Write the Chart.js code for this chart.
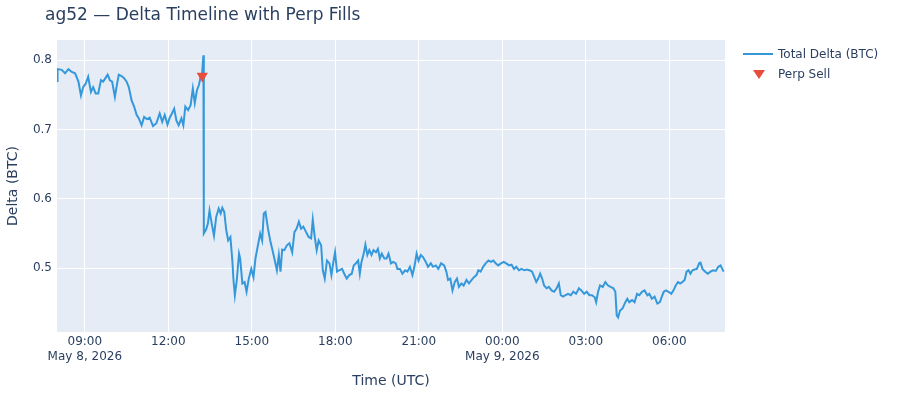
<!DOCTYPE html>
<html>
<head>
<meta charset="utf-8">
<script src="https://cdn.jsdelivr.net/npm/chart.js@4.4.1/dist/chart.umd.min.js"></script>
<style>
  body { margin: 0; background: #fff; font-family: "DejaVu Sans", Verdana, sans-serif; color: #2a3f5f; }
  #wrap { position: relative; width: 900px; height: 400px; }
  #title { position: absolute; left: 45px; top: 2px; font-size: 17px; line-height: 24px; white-space: nowrap; }
  .lg { position: absolute; font-size: 12px; line-height: 16px; white-space: nowrap; }
  #lgLine { position: absolute; left: 743px; top: 53px; width: 30px; height: 2px; background: #3498DB; }
  #lgTri { position: absolute; left: 753px; top: 70px; width: 0; height: 0;
    border-left: 6px solid transparent; border-right: 6px solid transparent; border-top: 9px solid #E74C3C; }
</style>
</head>
<body>
<div id="wrap">
  <canvas id="deltaChart"></canvas>
  <div id="title">ag52 — Delta Timeline with Perp Fills</div>
  <div id="lgLine"></div>
  <div class="lg" style="left:778px; top:46px;">Total Delta (BTC)</div>
  <div id="lgTri"></div>
  <div class="lg" style="left:778px; top:66px;">Perp Sell</div>
</div>
<script>
// hours since 2026-05-08 00:00 UTC
const timesH = [
  8.00, 8.02, 8.17, 8.29, 8.41, 8.53, 8.65, 8.77, 8.86, 8.94, 9.03, 9.12, 9.22, 9.30, 9.39, 9.48,
  9.58, 9.66, 9.74, 9.82, 9.90, 9.98, 10.08, 10.15, 10.22, 10.32, 10.41, 10.50, 10.58, 10.68, 10.77, 10.86,
  10.94, 11.04, 11.13, 11.23, 11.33, 11.45, 11.57, 11.69, 11.78, 11.87, 11.97, 12.05, 12.13, 12.21, 12.29, 12.37,
  12.47, 12.54, 12.61, 12.71, 12.80, 12.88, 12.95, 13.03, 13.10, 13.16, 13.21, 13.26, 13.27, 13.28,
  13.36, 13.42, 13.48, 13.56, 13.64, 13.72, 13.81, 13.88, 13.94, 14.01, 14.08, 14.15, 14.23, 14.30, 14.34, 14.39,
  14.46, 14.54, 14.58, 14.66, 14.74, 14.81, 14.89, 14.98, 15.06, 15.13, 15.22, 15.30, 15.37, 15.43, 15.49, 15.58,
  15.66, 15.73, 15.81, 15.90, 15.97, 16.03, 16.09, 16.17, 16.26, 16.35, 16.45, 16.53, 16.61, 16.69, 16.77, 16.85,
  16.95, 17.04, 17.13, 17.19, 17.26, 17.33, 17.40, 17.49, 17.55, 17.62, 17.70, 17.79, 17.86, 17.93, 17.99, 18.06,
  18.14, 18.24, 18.32, 18.41, 18.50, 18.59, 18.66, 18.74, 18.82, 18.88, 18.94, 19.02, 19.08, 19.15, 19.22, 19.30,
  19.37, 19.46, 19.53, 19.60, 19.67, 19.76, 19.84, 19.91, 20.00, 20.08, 20.17, 20.23,
  20.32, 20.41, 20.51, 20.59, 20.68, 20.77, 20.84, 20.92, 20.99, 21.07, 21.15, 21.25, 21.33, 21.43, 21.51, 21.61,
  21.70, 21.80, 21.91, 21.99, 22.05, 22.13, 22.21, 22.29, 22.37, 22.44, 22.53, 22.61, 22.71, 22.80, 22.90, 22.98,
  23.07, 23.14, 23.22, 23.31, 23.40, 23.50, 23.59, 23.68, 23.76, 23.85, 23.95, 24.05, 24.14, 24.24, 24.33, 24.42,
  24.50, 24.60, 24.69, 24.79, 24.88, 24.98, 25.07, 25.15, 25.22, 25.29, 25.36, 25.43, 25.50, 25.59, 25.67, 25.77,
  25.86, 25.95, 26.03, 26.10, 26.18, 26.27, 26.36, 26.46, 26.55, 26.65, 26.75, 26.84, 26.94, 27.03, 27.13, 27.22,
  27.32, 27.37, 27.44, 27.51, 27.61, 27.70, 27.80, 27.89, 27.99, 28.06, 28.11, 28.16, 28.23, 28.32, 28.42, 28.49,
  28.56, 28.66, 28.75, 28.84, 28.92, 29.02, 29.11, 29.21, 29.28, 29.37, 29.47, 29.57, 29.66, 29.73, 29.80, 29.88,
  29.97, 30.07, 30.15, 30.23, 30.31, 30.39, 30.47, 30.55, 30.62, 30.69, 30.76, 30.83, 30.90, 30.99, 31.07, 31.12,
  31.19, 31.29, 31.38, 31.48, 31.57, 31.67, 31.76, 31.84, 31.95
];
const totalDelta = [
  0.770, 0.787, 0.786, 0.781, 0.787, 0.783, 0.781, 0.769, 0.749, 0.761, 0.766, 0.776, 0.754, 0.761, 0.752, 0.752,
  0.771, 0.769, 0.774, 0.779, 0.771, 0.769, 0.747, 0.764, 0.779, 0.777, 0.774, 0.769, 0.761, 0.742, 0.733, 0.721,
  0.716, 0.706, 0.718, 0.715, 0.717, 0.705, 0.709, 0.723, 0.711, 0.721, 0.707, 0.717, 0.723, 0.730, 0.713, 0.706,
  0.716, 0.706, 0.733, 0.728, 0.735, 0.759, 0.738, 0.757, 0.764, 0.776, 0.779, 0.807, 0.700, 0.550,
  0.556, 0.564, 0.583, 0.564, 0.547, 0.574, 0.586, 0.579, 0.587, 0.581, 0.555, 0.540, 0.545, 0.511, 0.483, 0.461,
  0.483, 0.521, 0.514, 0.478, 0.480, 0.466, 0.485, 0.499, 0.487, 0.514, 0.533, 0.550, 0.540, 0.579, 0.581, 0.557,
  0.540, 0.528, 0.514, 0.497, 0.519, 0.495, 0.527, 0.526, 0.533, 0.536, 0.523, 0.552, 0.557, 0.567, 0.557, 0.560,
  0.552, 0.545, 0.543, 0.570, 0.545, 0.526, 0.540, 0.533, 0.497, 0.485, 0.511, 0.507, 0.490, 0.509, 0.523, 0.495,
  0.497, 0.499, 0.492, 0.485, 0.490, 0.492, 0.504, 0.507, 0.511, 0.492, 0.509, 0.521, 0.534, 0.519, 0.526, 0.519,
  0.526, 0.523, 0.528, 0.514, 0.521, 0.514, 0.514, 0.521, 0.507, 0.509, 0.507, 0.499,
  0.499, 0.492, 0.497, 0.495, 0.502, 0.490, 0.502, 0.521, 0.511, 0.519, 0.516, 0.509, 0.502, 0.507, 0.502, 0.504,
  0.499, 0.507, 0.504, 0.495, 0.483, 0.485, 0.468, 0.480, 0.485, 0.473, 0.478, 0.475, 0.483, 0.478, 0.483, 0.487,
  0.490, 0.497, 0.495, 0.502, 0.507, 0.511, 0.509, 0.511, 0.507, 0.504, 0.507, 0.509, 0.507, 0.504, 0.505, 0.499,
  0.502, 0.497, 0.499, 0.497, 0.498, 0.497, 0.495, 0.487, 0.480, 0.485, 0.492, 0.485, 0.475, 0.471, 0.473, 0.468,
  0.466, 0.471, 0.478, 0.461, 0.459, 0.461, 0.463, 0.461, 0.466, 0.463, 0.471, 0.468, 0.463, 0.466, 0.461, 0.461,
  0.458, 0.451, 0.466, 0.475, 0.473, 0.480, 0.475, 0.473, 0.471, 0.466, 0.432, 0.429, 0.439, 0.442, 0.451, 0.456,
  0.451, 0.454, 0.451, 0.463, 0.461, 0.466, 0.468, 0.461, 0.463, 0.456, 0.459, 0.449, 0.451, 0.459, 0.466, 0.468,
  0.466, 0.463, 0.468, 0.475, 0.480, 0.478, 0.480, 0.483, 0.495, 0.497, 0.492, 0.497, 0.498, 0.499, 0.507, 0.508,
  0.499, 0.495, 0.492, 0.495, 0.497, 0.496, 0.502, 0.504, 0.495
];

// perp fills
const sellTimesH = [13.22];
const sellDelta = [0.777];

const xTickHours = [9, 12, 15, 18, 21, 24, 27, 30];
const dateLabels = { 9: "May 8, 2026", 24: "May 9, 2026" };
const yTicks = [0.5, 0.6, 0.7, 0.8];

const textColor = "#2a3f5f";
const fontFamily = '"DejaVu Sans", Verdana, sans-serif';

// plotly-like background behind the grid
const plotBg = {
  id: "plotBg",
  beforeDraw(chart) {
    const { ctx, chartArea: a } = chart;
    ctx.save();
    ctx.fillStyle = "#E5ECF6";
    ctx.fillRect(a.left, a.top, a.right - a.left, a.bottom - a.top);
    ctx.restore();
  },
};

function hourLabel(v) {
  const h = String(v % 24).padStart(2, "0") + ":00";
  return dateLabels[v] ? [h, dateLabels[v]] : h;
}

const ctx = document.getElementById("deltaChart").getContext("2d");
new Chart(ctx, {
  type: "line",
  data: {
    datasets: [
      {
        label: "Perp Sell",
        data: sellTimesH.map((t, i) => ({ x: t, y: sellDelta[i] })),
        showLine: false,
        pointStyle: "triangle",
        rotation: 180,
        pointRadius: 6.5,
        pointBackgroundColor: "#E74C3C",
        pointBorderWidth: 0,
        order: 0,
      },
      {
        label: "Total Delta (BTC)",
        data: timesH.map((t, i) => ({ x: t, y: totalDelta[i] })),
        borderColor: "#3498DB",
        borderWidth: 2,
        pointRadius: 0,
        tension: 0,
        fill: false,
        order: 1,
      },
    ],
  },
  options: {
    responsive: true,
    maintainAspectRatio: false,
    animation: false,
    layout: { padding: { top: 40, right: 175, left: 0, bottom: 0 } },
    plugins: { legend: { display: false }, tooltip: { enabled: false } },
    scales: {
      x: {
        type: "linear",
        min: 8,
        max: 32,
        grid: { color: "#ffffff", lineWidth: 1, drawTicks: false },
        border: { display: false },
        afterBuildTicks: (scale) => {
          scale.ticks = xTickHours.map((v) => ({ value: v }));
        },
        afterFit: (scale) => {
          scale.height = 68;
        },
        ticks: {
          autoSkip: false,
          maxRotation: 0,
          padding: 2,
          color: textColor,
          font: { family: fontFamily, size: 12, lineHeight: 1.25 },
          callback: (v) => hourLabel(v),
        },
        title: {
          display: true,
          text: "Time (UTC)",
          color: textColor,
          font: { family: fontFamily, size: 14 },
          padding: { top: 0, bottom: 10 },
        },
      },
      y: {
        min: 0.408,
        max: 0.829,
        grid: { color: "#ffffff", lineWidth: 1, drawTicks: false },
        border: { display: false },
        afterBuildTicks: (scale) => {
          scale.ticks = yTicks.map((v) => ({ value: v }));
        },
        afterFit: (scale) => {
          scale.width = 57;
        },
        ticks: {
          padding: 5,
          color: textColor,
          font: { family: fontFamily, size: 12 },
          callback: (v) => v.toFixed(1),
        },
        title: {
          display: true,
          text: "Delta (BTC)",
          color: textColor,
          font: { family: fontFamily, size: 14 },
          padding: { top: 5, bottom: 0 },
        },
      },
    },
  },
  plugins: [plotBg],
});
</script>
</body>
</html>
